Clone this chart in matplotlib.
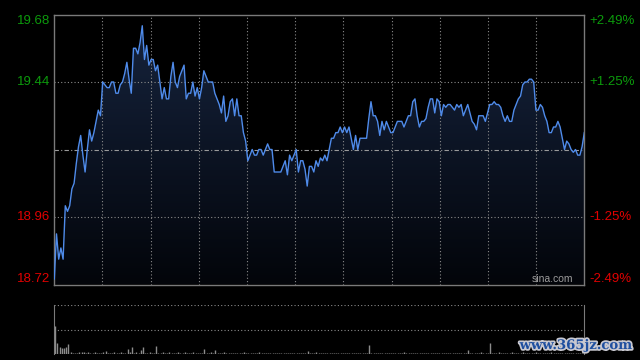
import matplotlib
matplotlib.use("Agg")
import matplotlib.pyplot as plt
import matplotlib.patheffects as pe
from matplotlib.transforms import blended_transform_factory
from matplotlib.colors import LinearSegmentedColormap
import numpy as np

# ---------------- data ----------------
prices = [
    18.74, 18.90, 18.81, 18.85, 18.81, 19.00, 18.98, 19.00, 19.06, 19.08,
    19.15, 19.21, 19.25, 19.18, 19.12, 19.20, 19.27, 19.23, 19.26, 19.30,
    19.34, 19.32, 19.44, 19.43, 19.42, 19.42, 19.44, 19.44, 19.40, 19.40,
    19.43, 19.44, 19.47, 19.51, 19.45, 19.40, 19.56, 19.56, 19.54, 19.58,
    19.64, 19.52, 19.57, 19.50, 19.52, 19.52, 19.48, 19.50, 19.44, 19.38,
    19.42, 19.38, 19.38, 19.46, 19.51, 19.44, 19.42, 19.46, 19.48, 19.50,
    19.38, 19.40, 19.40, 19.44, 19.39, 19.42, 19.38, 19.42, 19.48, 19.46,
    19.44, 19.44, 19.44, 19.40, 19.38, 19.36, 19.33, 19.39, 19.30, 19.32,
    19.37, 19.38, 19.32, 19.38, 19.32, 19.32, 19.26, 19.23, 19.16, 19.18,
    19.20, 19.18, 19.18, 19.20, 19.20, 19.18, 19.20, 19.22, 19.20, 19.20,
    19.12, 19.12, 19.12, 19.12, 19.14, 19.16, 19.11, 19.18, 19.16, 19.18,
    19.20, 19.12, 19.16, 19.16, 19.13, 19.07, 19.14, 19.14, 19.12, 19.16,
    19.14, 19.17, 19.16, 19.18, 19.16, 19.20, 19.24, 19.24, 19.26, 19.26,
    19.28, 19.26, 19.28, 19.26, 19.28, 19.24, 19.20, 19.25, 19.20, 19.24,
    19.24, 19.24, 19.24, 19.31, 19.37, 19.32, 19.32, 19.30, 19.25, 19.30,
    19.27, 19.30, 19.28, 19.26, 19.26, 19.28, 19.30, 19.30, 19.30, 19.28,
    19.30, 19.32, 19.32, 19.37, 19.38, 19.32, 19.28, 19.30, 19.30, 19.31,
    19.35, 19.38, 19.38, 19.33, 19.38, 19.37, 19.32, 19.36, 19.35, 19.36,
    19.36, 19.35, 19.34, 19.36, 19.35, 19.36, 19.32, 19.34, 19.36, 19.33,
    19.30, 19.29, 19.27, 19.32, 19.32, 19.32, 19.30, 19.33, 19.36, 19.36,
    19.37, 19.36, 19.36, 19.35, 19.32, 19.30, 19.32, 19.30, 19.30, 19.34,
    19.36, 19.38, 19.39, 19.43, 19.44, 19.44, 19.45, 19.45, 19.44, 19.34,
    19.34, 19.36, 19.35, 19.32, 19.30, 19.26, 19.26, 19.28, 19.28, 19.30,
    19.28, 19.24, 19.20, 19.23, 19.22, 19.20, 19.19, 19.20, 19.18, 19.18,
    19.21, 19.26,
]
minutes = list(range(len(prices)))

# volume in percent of the volume panel height
volume = [
    58, 23, 14, 12, 12, 14, 21, 4, 3, 2, 3, 4, 5, 4, 3, 5, 3, 2, 4, 3,
    2, 3, 4, 7, 3, 2, 3, 4, 2, 3, 5, 2, 3, 10, 4, 15, 3, 4, 2, 9,
    15, 3, 2, 4, 2, 3, 17, 3, 2, 4, 3, 2, 4, 3, 2, 3, 5, 2, 3, 4,
    2, 3, 2, 4, 3, 2, 3, 2, 11, 3, 2, 4, 3, 9, 2, 3, 2, 4, 2, 3,
    2, 3, 2, 2, 3, 2, 4, 2, 3, 2, 2, 3, 2, 4, 2, 2, 3, 2, 2, 3,
    2, 2, 3, 2, 2, 3, 2, 2, 2, 3, 2, 2, 3, 2, 2, 7, 3, 2, 2, 4,
    2, 3, 2, 2, 3, 2, 2, 3, 2, 2, 3, 2, 2, 2, 3, 2, 2, 3, 2, 2,
    3, 2, 2, 19, 3, 2, 2, 3, 2, 2, 3, 2, 2, 3, 2, 2, 2, 3, 2, 4,
    2, 2, 3, 2, 2, 3, 2, 2, 2, 3, 2, 2, 3, 2, 2, 3, 2, 2, 2, 3,
    2, 2, 3, 2, 2, 3, 2, 2, 9, 3, 2, 2, 3, 2, 4, 3, 2, 2, 23, 3,
    2, 3, 4, 2, 3, 2, 3, 2, 4, 3, 2, 3, 2, 4, 3, 2, 3, 2, 3, 4,
    3, 2, 3, 2, 3, 2, 4, 3, 2, 3, 2, 3, 3, 2, 3, 2, 3, 2, 3, 3,
    2, 3,
]

price_ticks = [19.68, 19.44, 18.96, 18.72]
price_labels = ["19.68", "19.44", "18.96", "18.72"]
pct_labels = ["+2.49%", "+1.25%", "-1.25%", "-2.49%"]
prev_close = 19.20
y_min, y_max = 18.72, 19.68
n_sections = 11

# ---------------- style ----------------
plt.rcParams["font.family"] = ["Liberation Sans Narrow", "Liberation Sans", "DejaVu Sans"]
GREEN = "#0c9a0c"
RED = "#e10000"
GRID = "#8a8a8a"
SPINE = "#7a7a7a"
LINE = "#4f8bea"

fig = plt.figure(figsize=(6.4, 3.6), dpi=100, facecolor="black")
ax = fig.add_axes([54.3 / 640, 75.5 / 360, 530 / 640, 270 / 360])
ax.set_facecolor("black")
n = len(prices) - 1
ax.set_xlim(0, n)
ax.set_ylim(y_min, y_max)

# gradient fill under the price line
grad = np.linspace(0, 1, 256).reshape(-1, 1)
cmap = LinearSegmentedColormap.from_list("g", ["#03050a", "#0c1424", "#17253f"])
im = ax.imshow(grad, extent=[0, n, y_min, y_max], origin="lower", aspect="auto",
               cmap=cmap, zorder=1)
poly = ax.fill_between(minutes, prices, y_min, color="none", lw=0, zorder=1)
im.set_clip_path(poly.get_paths()[0], transform=ax.transData)

# grid
for v in [19.44, 18.96]:
    ax.axhline(v, color=GRID, lw=0.8, ls=(0, (1, 2)), zorder=2)
ax.axhline(prev_close, color="#9a9a9a", lw=0.8, ls=(0, (4, 2, 1, 2)), zorder=2)
for k in range(1, n_sections):
    ax.axvline(n * k / n_sections, color=GRID, lw=0.8, ls=(0, (1, 2)), zorder=2)

ax.plot(minutes, prices, color=LINE, lw=1.0, zorder=3)

for s in ax.spines.values():
    s.set_color(SPINE)
    s.set_linewidth(1.0)
ax.set_xticks([])
ax.set_yticks([])

tr = blended_transform_factory(ax.transAxes, ax.transData)
for i, (v, lab, pct) in enumerate(zip(price_ticks, price_labels, pct_labels)):
    col = GREEN if v > prev_close else RED
    va = "top" if i == 0 else ("bottom" if i == len(price_ticks) - 1 else "center")
    ax.text(-0.007, v, lab, transform=tr, ha="right", va=va, color=col, fontsize=9.5)
    ax.text(1.0105, v, pct, transform=tr, ha="left", va=va, color=col, fontsize=9.5)

ax.text(0.94, 0.02, "sina.com", transform=ax.transAxes, ha="center", va="center",
        color="#9c9c9c", fontsize=7.5, family=["Liberation Sans", "DejaVu Sans"], zorder=4)

# ---------------- volume panel ----------------
axv = fig.add_axes([54.3 / 640, 5.7 / 360, 530 / 640, 49.6 / 360])
axv.set_facecolor("black")
axv.set_xlim(-0.4, n)
axv.set_ylim(0, 100)
axv.vlines(minutes, 0, volume, color="#8c8c8c", lw=1.0, zorder=3)
axv.axhline(100, color=GRID, lw=0.8, ls=(0, (1, 2)))
axv.axhline(50, color=GRID, lw=0.8, ls=(0, (1, 2)))
for side in ["top", "bottom"]:
    axv.spines[side].set_visible(False)
for side in ["left", "right"]:
    axv.spines[side].set_color(SPINE)
axv.set_xticks([])
axv.set_yticks([])

fig.text(576 / 640, 14.5 / 360, "www.365jz.com", ha="center", va="center",
         color="#1f4f9f", fontsize=9.5, fontweight="bold", family="DejaVu Serif",
         path_effects=[pe.withStroke(linewidth=2.5, foreground="#c8c8d0")])

fig.savefig("out.png", dpi=100, facecolor="black")
